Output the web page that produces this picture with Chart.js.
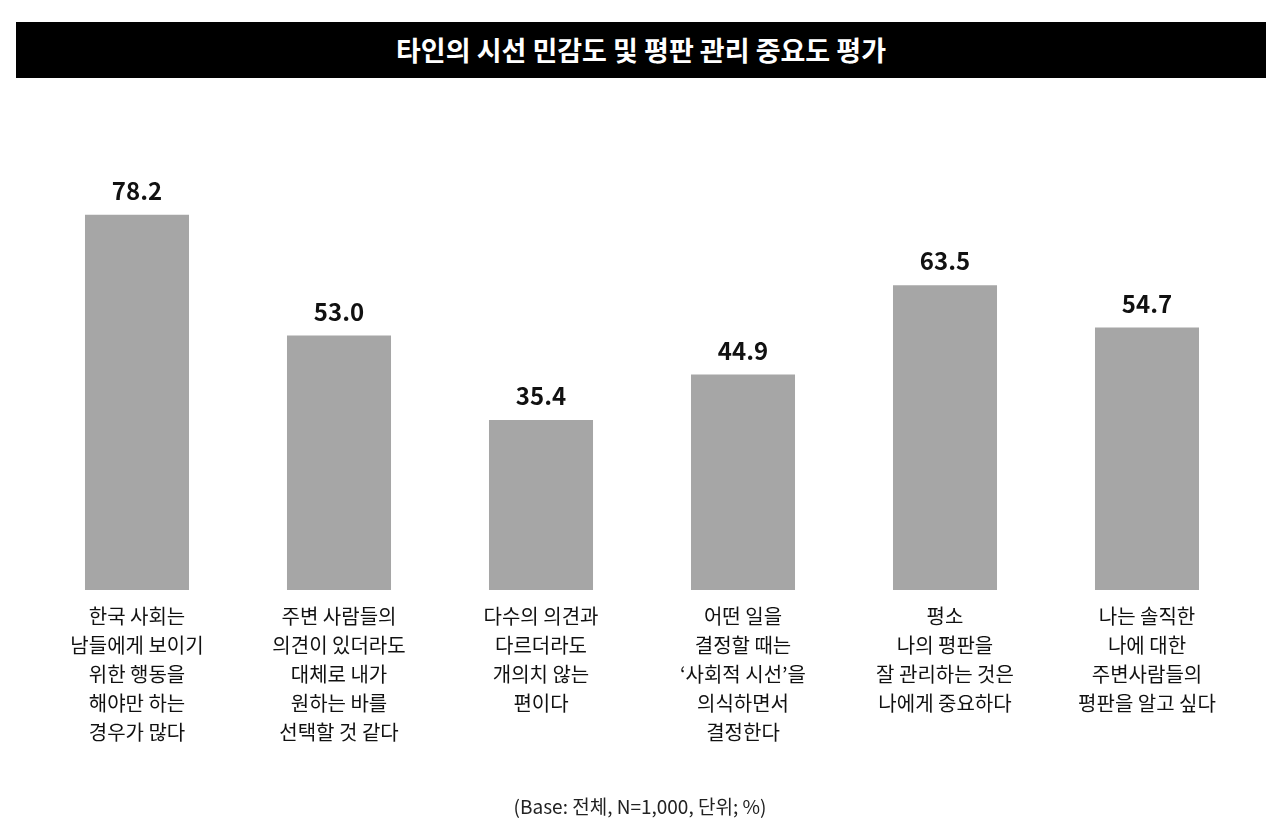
<!DOCTYPE html>
<html><head><meta charset="utf-8">
<script src="https://cdn.jsdelivr.net/npm/chart.js@4/dist/chart.umd.min.js"></script>
<style>
body{margin:0;background:#fff;font-family:"Noto Sans CJK KR",sans-serif;}
#wrap{position:relative;width:1280px;height:839px;}
#title{position:absolute;left:16px;top:22px;width:1250px;height:56px;background:#000;color:#fff;font-size:27px;font-weight:bold;text-align:center;line-height:56px;}
#foot{position:absolute;left:0;width:1280px;top:792px;text-align:center;font-size:19px;color:#222;}
canvas{position:absolute;left:0;top:0;}
</style></head><body>
<div id="wrap"><canvas id="c" width="1280" height="839"></canvas>
<div id="title">타인의 시선 민감도 및 평판 관리 중요도 평가</div>
<div id="foot">(Base: 전체, N=1,000, 단위; %)</div></div>
<script>
const categories=[
 ["한국 사회는","남들에게 보이기","위한 행동을","해야만 하는","경우가 많다"],
 ["주변 사람들의","의견이 있더라도","대체로 내가","원하는 바를","선택할 것 같다"],
 ["다수의 의견과","다르더라도","개의치 않는","편이다"],
 ["어떤 일을","결정할 때는","‘사회적 시선’을","의식하면서","결정한다"],
 ["평소","나의 평판을","잘 관리하는 것은","나에게 중요하다"],
 ["나는 솔직한","나에 대한","주변사람들의","평판을 알고 싶다"]];
const values=[78.2,53.0,35.4,44.9,63.5,54.7];
const valueLabels=["78.2","53.0","35.4","44.9","63.5","54.7"];
const lbl={id:'lbl',afterDatasetsDraw(ch){const c=ch.ctx;c.save();c.fillStyle='#111';c.font='bold 24px "Noto Sans CJK KR"';c.textAlign='center';c.textBaseline='bottom';
ch.getDatasetMeta(0).data.forEach((b,i)=>c.fillText(valueLabels[i],b.x,b.y-12));c.restore();}};
new Chart(document.getElementById('c'),{type:'bar',
data:{labels:categories,datasets:[{data:values,backgroundColor:'#a6a6a6',barPercentage:0.515,categoryPercentage:1}]},
options:{responsive:false,animation:false,layout:{padding:{left:36,right:32,top:110,bottom:0}},
plugins:{legend:{display:false},tooltip:{enabled:false}},
scales:{y:{display:false,min:0,max:100},
x:{grid:{display:false},border:{display:false},afterFit(s){s.height=249;},
ticks:{color:'#111',font:{size:20,family:'"Noto Sans CJK KR"',lineHeight:1.45},padding:4,maxRotation:0,autoSkip:false}}}},
plugins:[lbl]});
</script></body></html>
